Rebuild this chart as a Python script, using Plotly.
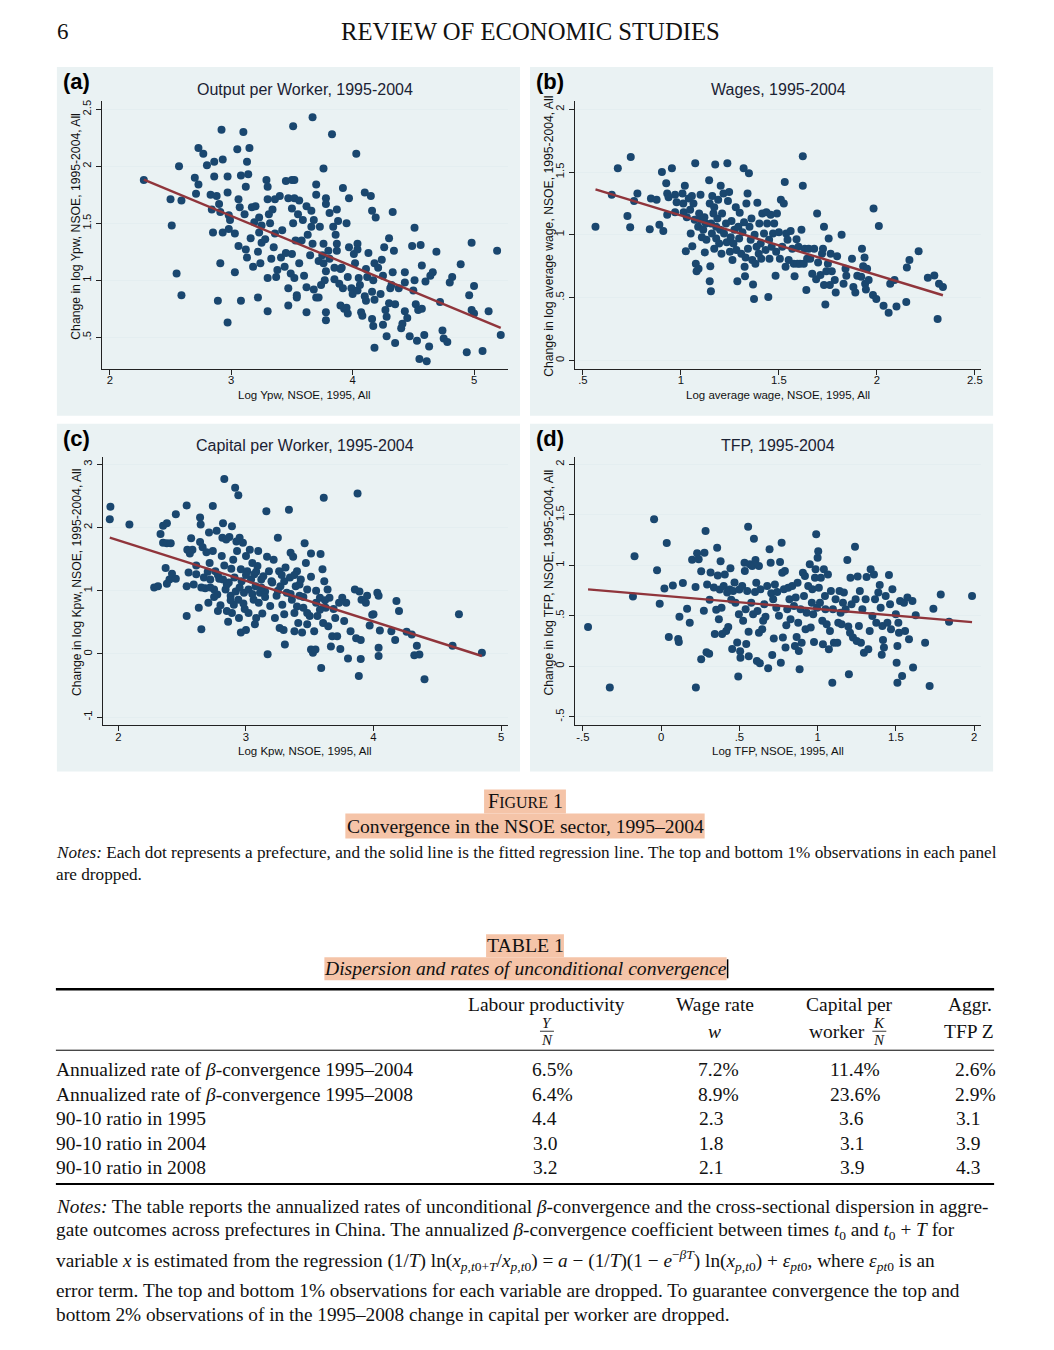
import numpy as np
import plotly.graph_objects as go

W, H = 1054, 1350
SERIF = "Liberation Serif"
SANS = "Liberation Sans"
NAVY = "#1a476f"
MAROON = "#90353b"
PANEL_BG = "#eaf2f3"
HILITE = "#f5c4a8"
INK = "#111111"

# (a) output per worker: (log Ypw 1995, change 1995-2004)
ypw_points = [
    (2.28, 1.88), (2.50, 1.71), (2.51, 1.48), (2.57, 2.00), (2.59, 1.70), (2.55, 1.06), (2.59, 0.87),
    (2.70, 1.90), (2.73, 2.16), (2.77, 2.11), (2.73, 1.84), (2.71, 1.76), (2.80, 2.01), (2.83, 1.75),
    (2.84, 1.62), (2.86, 1.91), (2.86, 2.04), (2.88, 1.74), (2.90, 1.67), (2.91, 1.60), (2.85, 1.42),
    (2.92, 2.32), (2.93, 2.06), (2.93, 1.42), (2.91, 1.15), (2.89, 0.82), (2.97, 1.91), (2.97, 1.77),
    (2.98, 1.57), (2.99, 1.53), (2.98, 1.45), (2.97, 0.63), (3.03, 1.41), (3.05, 2.15), (3.06, 1.71),
    (3.06, 1.30), (3.03, 1.07), (3.07, 1.64), (3.08, 1.92), (3.10, 2.30), (3.11, 1.58), (3.12, 1.82),
    (3.13, 2.04), (3.14, 1.93), (3.15, 2.16), (3.12, 1.27), (3.13, 1.20), (3.16, 1.37), (3.18, 1.12),
    (3.17, 1.64), (3.20, 1.65), (3.19, 1.51), (3.08, 0.82), (3.22, 0.85), (3.23, 1.55), (3.22, 1.25),
    (3.23, 1.42), (3.25, 1.33), (3.25, 1.48), (3.24, 1.15), (3.28, 1.36), (3.29, 1.88), (3.30, 1.71),
    (3.30, 1.82), (3.30, 1.02), (3.30, 0.73), (3.31, 1.58), (3.32, 1.50), (3.34, 1.62), (3.33, 1.19),
    (3.35, 1.29), (3.36, 1.71), (3.36, 1.41), (3.37, 1.03), (3.38, 1.09), (3.40, 1.74), (3.42, 1.44),
    (3.41, 1.20), (3.45, 1.87), (3.45, 1.24), (3.44, 1.12), (3.47, 1.72), (3.47, 0.93), (3.47, 0.78),
    (3.49, 1.06), (3.50, 1.88), (3.51, 2.35), (3.52, 1.88), (3.52, 1.72), (3.50, 1.63), (3.51, 1.50),
    (3.50, 1.23), (3.52, 1.02), (3.53, 1.35), (3.54, 0.87), (3.54, 0.85), (3.55, 1.58), (3.56, 1.70),
    (3.56, 1.15), (3.58, 1.35), (3.59, 1.53), (3.60, 1.04), (3.62, 0.72), (3.62, 0.94), (3.62, 1.65),
    (3.63, 1.40), (3.65, 1.22), (3.66, 1.61), (3.66, 1.47), (3.67, 2.43), (3.67, 1.32), (3.68, 0.92),
    (3.68, 1.53), (3.70, 1.84), (3.70, 1.75), (3.70, 0.85), (3.72, 1.17), (3.72, 0.85), (3.73, 1.47),
    (3.74, 0.96), (3.75, 1.22), (3.76, 1.32), (3.76, 1.98), (3.76, 1.15), (3.77, 1.00), (3.78, 0.72),
    (3.78, 0.65), (3.78, 1.72), (3.78, 1.67), (3.78, 1.08), (3.80, 1.26), (3.81, 1.59), (3.81, 1.19),
    (3.83, 2.28), (3.84, 1.47), (3.85, 1.11), (3.86, 1.40), (3.85, 1.01), (3.87, 1.32), (3.87, 1.62),
    (3.87, 1.26), (3.88, 1.52), (3.89, 0.97), (3.90, 1.10), (3.91, 1.11), (3.92, 1.81), (3.90, 0.78),
    (3.92, 0.93), (3.93, 0.75), (3.95, 0.76), (3.95, 1.50), (3.96, 0.71), (3.96, 1.03), (3.97, 1.72),
    (3.97, 1.29), (3.99, 0.93), (4.00, 0.88), (4.01, 1.23), (4.03, 2.11), (4.02, 1.15), (4.04, 0.91),
    (4.04, 1.32), (4.04, 1.27), (4.05, 1.02), (4.06, 0.96), (4.07, 0.72), (4.08, 0.69), (4.10, 1.77),
    (4.10, 0.86), (4.11, 0.82), (4.11, 1.10), (4.12, 1.03), (4.13, 1.24), (4.15, 1.74), (4.16, 0.90),
    (4.16, 1.61), (4.16, 0.66), (4.17, 0.60), (4.17, 1.00), (4.18, 0.41), (4.18, 0.83), (4.19, 1.55),
    (4.18, 1.15), (4.21, 1.11), (4.23, 0.88), (4.24, 1.18), (4.25, 0.61), (4.25, 1.04), (4.26, 1.29),
    (4.27, 0.74), (4.28, 0.51), (4.28, 0.68), (4.30, 1.37), (4.30, 0.80), (4.31, 0.93), (4.32, 0.96),
    (4.33, 1.60), (4.34, 1.26), (4.33, 1.07), (4.35, 0.79), (4.35, 0.45), (4.38, 0.93), (4.40, 0.58),
    (4.41, 0.62), (4.43, 0.73), (4.43, 1.07), (4.43, 0.98), (4.45, 0.67), (4.47, 0.51), (4.49, 1.30),
    (4.51, 1.46), (4.51, 1.00), (4.50, 0.91), (4.52, 0.79), (4.54, 0.74), (4.53, 0.47), (4.55, 0.31),
    (4.56, 1.31), (4.57, 1.13), (4.57, 0.75), (4.59, 0.52), (4.60, 0.99), (4.61, 0.29), (4.63, 0.42),
    (4.64, 1.04), (4.66, 1.07), (4.69, 1.25), (4.72, 0.81), (4.74, 0.56), (4.75, 0.49), (4.78, 0.46),
    (4.80, 0.98), (4.82, 1.03), (4.89, 1.14), (4.94, 0.37), (4.96, 0.87), (4.98, 0.74), (4.98, 1.33),
    (5.00, 0.95), (5.00, 0.71), (5.07, 0.38), (5.12, 0.73), (5.19, 1.26), (5.22, 0.52),
]
ypw_fit = [2.89, -0.442]  # intercept, slope

# (b) wages: (log average wage 1995, change 1995-2004)
wage_points = [
    (0.564, 1.064), (0.647, 1.32), (0.678, 1.53), (0.744, 1.62), (0.727, 1.15), (0.741, 1.06),
    (0.778, 1.33), (0.761, 1.27), (0.841, 1.045), (0.847, 1.29), (0.876, 1.28), (0.89, 1.08),
    (0.903, 1.50), (0.91, 1.03), (0.925, 1.41), (0.93, 1.33), (0.93, 1.16), (0.937, 1.30),
    (0.954, 1.53), (0.97, 1.32), (0.978, 1.26), (0.97, 1.18), (1.008, 1.33), (1.012, 1.25),
    (1.014, 1.18), (1.02, 1.39), (1.025, 0.87), (1.03, 1.14), (1.04, 1.29), (1.047, 1.20),
    (1.056, 1.31), (1.05, 1.01), (1.058, 0.91), (1.064, 1.25), (1.07, 1.12), (1.073, 1.57),
    (1.076, 0.77), (1.08, 0.71), (1.088, 1.064), (1.09, 0.73), (1.093, 1.17), (1.10, 1.32),
    (1.10, 1.12), (1.107, 0.98), (1.114, 1.04), (1.12, 1.14), (1.122, 0.86), (1.127, 1.09),
    (1.13, 0.96), (1.144, 1.435), (1.147, 1.25), (1.147, 0.63), (1.153, 0.55), (1.15, 0.75),
    (1.154, 1.09), (1.158, 1.01), (1.16, 1.31), (1.166, 1.17), (1.17, 0.89), (1.17, 1.22),
    (1.175, 1.56), (1.18, 1.064), (1.18, 0.97), (1.186, 1.13), (1.19, 1.28), (1.195, 0.93),
    (1.20, 1.04), (1.203, 1.39), (1.207, 0.85), (1.21, 1.17), (1.217, 1.33), (1.22, 1.01),
    (1.23, 1.09), (1.234, 0.94), (1.237, 1.57), (1.24, 1.27), (1.246, 1.34), (1.25, 0.865),
    (1.254, 0.98), (1.258, 1.11), (1.263, 0.80), (1.268, 0.93), (1.273, 1.04), (1.28, 1.22),
    (1.283, 0.88), (1.288, 0.63), (1.293, 1.064), (1.297, 0.97), (1.30, 1.175), (1.308, 0.85),
    (1.314, 1.02), (1.32, 1.53), (1.322, 1.10), (1.325, 0.745), (1.327, 0.67), (1.33, 0.82),
    (1.334, 1.25), (1.34, 1.33), (1.342, 0.89), (1.347, 1.49), (1.35, 1.064), (1.356, 0.96),
    (1.36, 1.13), (1.364, 0.80), (1.368, 0.605), (1.373, 0.49), (1.376, 1.00), (1.38, 0.77),
    (1.386, 0.905), (1.39, 1.255), (1.397, 0.85), (1.40, 1.09), (1.407, 0.93), (1.41, 0.81),
    (1.415, 1.17), (1.424, 1.01), (1.432, 0.88), (1.436, 1.18), (1.44, 1.09), (1.446, 0.505),
    (1.45, 0.96), (1.452, 0.81), (1.458, 1.16), (1.463, 0.905), (1.47, 1.01), (1.476, 1.09),
    (1.483, 0.674), (1.486, 0.865), (1.49, 1.17), (1.50, 1.02), (1.505, 0.81), (1.51, 1.28),
    (1.517, 0.905), (1.525, 1.25), (1.53, 1.42), (1.534, 0.745), (1.537, 1.01), (1.544, 0.96),
    (1.55, 0.80), (1.56, 1.03), (1.568, 0.89), (1.576, 0.77), (1.58, 0.67), (1.59, 0.965),
    (1.595, 0.77), (1.60, 0.905), (1.608, 0.77), (1.615, 1.04), (1.622, 1.626), (1.622, 1.39),
    (1.627, 0.77), (1.632, 0.89), (1.64, 0.56), (1.644, 0.81), (1.652, 0.89), (1.66, 0.81),
    (1.67, 0.69), (1.68, 0.89), (1.69, 0.647), (1.695, 1.17), (1.70, 0.78), (1.712, 0.68),
    (1.72, 0.85), (1.725, 0.89), (1.73, 1.064), (1.73, 0.60), (1.737, 0.445), (1.742, 0.71),
    (1.75, 0.77), (1.754, 0.97), (1.76, 0.60), (1.764, 0.85), (1.77, 0.71), (1.785, 0.64),
    (1.79, 0.54), (1.797, 0.83), (1.82, 1.00), (1.83, 0.61), (1.84, 0.73), (1.844, 0.674),
    (1.873, 0.81), (1.88, 0.585), (1.89, 0.54), (1.90, 0.674), (1.92, 0.666), (1.924, 0.89),
    (1.93, 0.75), (1.937, 0.82), (1.94, 0.61), (1.944, 0.565), (1.95, 0.73), (1.958, 0.64),
    (1.98, 0.52), (1.983, 1.21), (1.997, 0.49), (2.01, 1.07), (2.034, 0.435), (2.068, 0.61),
    (2.06, 0.38), (2.09, 0.64), (2.10, 0.43), (2.15, 0.465), (2.153, 0.74), (2.166, 0.80),
    (2.213, 0.87), (2.26, 0.658), (2.293, 0.676), (2.31, 0.33), (2.317, 0.61), (2.337, 0.584),
]
wage_fit = [1.629, -0.475]

# (c) capital per worker: (log Kpw 1995, change 1995-2004)
kpw_points = [
    (1.937, 2.33), (1.932, 2.13), (2.086, 2.05), (2.28, 1.05), (2.31, 1.07), (2.33, 1.90),
    (2.35, 2.03), (2.38, 2.07), (2.35, 1.76), (2.38, 1.75), (2.41, 1.75), (2.37, 1.36),
    (2.40, 1.18), (2.42, 1.27), (2.38, 1.11), (2.45, 2.21), (2.45, 1.19), (2.535, 2.35),
    (2.54, 1.65), (2.55, 1.29), (2.535, 1.07), (2.535, 0.60), (2.57, 1.83), (2.58, 1.65),
    (2.56, 1.59), (2.59, 1.10), (2.61, 1.40), (2.61, 1.26), (2.63, 0.73), (2.64, 2.16),
    (2.645, 2.05), (2.64, 1.77), (2.65, 0.39), (2.66, 1.69), (2.67, 1.21), (2.68, 1.04),
    (2.69, 1.61), (2.705, 0.81), (2.71, 1.92), (2.715, 1.44), (2.72, 1.18), (2.74, 2.34),
    (2.74, 1.63), (2.75, 1.02), (2.76, 1.31), (2.77, 1.95), (2.775, 0.94), (2.78, 0.68),
    (2.79, 1.19), (2.80, 0.77), (2.81, 1.55), (2.815, 1.84), (2.82, 2.07), (2.83, 2.77),
    (2.83, 1.40), (2.84, 1.02), (2.845, 1.81), (2.85, 0.68), (2.86, 0.51), (2.865, 1.13),
    (2.87, 1.85), (2.88, 0.92), (2.885, 1.35), (2.89, 2.02), (2.89, 0.65), (2.90, 1.49),
    (2.905, 0.78), (2.91, 1.21), (2.915, 2.63), (2.92, 0.99), (2.925, 1.78), (2.93, 1.63),
    (2.94, 2.51), (2.94, 0.86), (2.945, 0.57), (2.95, 1.84), (2.96, 1.34), (2.96, 0.34),
    (2.966, 1.15), (2.976, 1.76), (2.984, 0.97), (2.99, 0.71), (3.00, 1.55), (3.00, 0.38),
    (3.01, 1.31), (3.02, 1.02), (3.02, 0.65), (3.03, 1.65), (3.04, 1.18), (3.05, 1.44),
    (3.06, 0.86), (3.065, 1.26), (3.07, 0.47), (3.075, 1.07), (3.08, 0.57), (3.09, 1.39),
    (3.096, 1.63), (3.10, 0.81), (3.11, 0.97), (3.12, 1.18), (3.128, 0.64), (3.136, 1.23),
    (3.15, 0.99), (3.16, 2.26), (3.165, 1.54), (3.17, -0.005), (3.18, 1.31), (3.19, 0.76),
    (3.206, 1.13), (3.217, 1.49), (3.227, 0.57), (3.24, 0.92), (3.25, 1.84), (3.26, 1.31),
    (3.264, 0.41), (3.27, 1.07), (3.285, 0.78), (3.295, 0.38), (3.30, 0.63), (3.305, 0.15),
    (3.31, 1.37), (3.32, 0.97), (3.337, 2.28), (3.345, 1.21), (3.35, 1.60), (3.36, 0.86),
    (3.37, 1.54), (3.38, 0.36), (3.38, 0.65), (3.39, 1.07), (3.40, 1.31), (3.41, 0.49),
    (3.42, 0.92), (3.43, 1.18), (3.44, 0.34), (3.45, 0.73), (3.46, 1.75), (3.47, 1.44),
    (3.48, 1.02), (3.48, 0.47), (3.50, 0.60), (3.51, 1.59), (3.51, 1.22), (3.51, 0.07),
    (3.525, 0.02), (3.535, 0.36), (3.545, 0.07), (3.55, 0.81), (3.56, 0.60), (3.58, 0.89),
    (3.585, 1.58), (3.59, -0.22), (3.60, 1.34), (3.605, 0.49), (3.61, 2.47), (3.614, 1.15),
    (3.625, 0.73), (3.64, 1.02), (3.645, 0.44), (3.655, 0.89), (3.666, 0.12), (3.676, 0.28),
    (3.687, 0.71), (3.70, 0.57), (3.715, 0.28), (3.73, 0.81), (3.74, 0.08), (3.755, 0.89),
    (3.77, 0.52), (3.786, 0.81), (3.80, -0.07), (3.82, 0.36), (3.854, 1.02), (3.864, 0.25),
    (3.875, 2.54), (3.885, -0.35), (3.89, 0.99), (3.90, 0.22), (3.90, -0.08), (3.906, 0.86),
    (3.94, 0.81), (3.95, 0.92), (3.97, 0.45), (3.99, 0.62), (4.00, 0.63), (4.03, 0.97),
    (4.04, 0.92), (4.04, 0.10), (4.04, -0.03), (4.05, 0.37), (4.14, 0.36), (4.17, 0.22),
    (4.18, 0.84), (4.20, 0.68), (4.26, 0.35), (4.30, 0.31), (4.34, 0.13), (4.32, -0.02),
    (4.36, -0.01), (4.40, -0.40), (4.62, 0.13), (4.67, 0.63), (4.85, 0.02),
    (2.72, 1.05), (2.78, 1.25), (2.85, 1.10), (2.95, 1.05), (3.00, 1.25), (3.05, 0.95),
    (3.12, 1.05), (3.20, 1.15), (3.25, 1.00), (3.30, 1.15), (3.35, 0.95), (3.42, 1.10),
    (3.45, 0.90), (2.88, 0.85), (2.98, 0.80), (3.08, 1.30), (3.15, 0.90), (3.28, 1.25),
    (3.38, 1.25), (3.55, 1.00), (2.75, 0.90), (2.82, 1.18), (2.65, 1.05), (2.70, 1.30),
    (3.48, 0.65), (3.58, 0.70), (3.62, 0.85), (3.40, 0.75),
]
kpw_fit = [3.082, -0.642]

# (d) TFP: (log TFP 1995, change 1995-2004)
tfp_points = [
    (-0.467, 0.39), (-0.328, -0.21), (-0.17, 1.09), (-0.18, 0.69), (-0.045, 1.455), (-0.026, 0.95),
    (-0.009, 0.62), (0.021, 0.77), (0.036, 1.22), (0.049, 0.29), (0.075, 0.80), (0.109, 0.27),
    (0.113, 0.24), (0.117, 0.49), (0.139, 0.825), (0.166, 0.57), (0.183, 0.43), (0.198, 1.056),
    (0.22, 0.785), (0.222, -0.21), (0.23, 1.12), (0.24, 1.06), (0.256, 0.94), (0.256, 0.07),
    (0.273, 0.55), (0.277, 1.125), (0.284, 1.34), (0.29, 0.14), (0.294, 0.81), (0.307, 0.125),
    (0.31, 0.66), (0.316, 0.93), (0.337, 0.78), (0.343, 0.32), (0.352, 0.56), (0.358, 1.175),
    (0.362, 0.90), (0.369, 0.465), (0.375, 0.76), (0.38, 1.04), (0.386, 0.58), (0.39, 0.32),
    (0.40, 0.795), (0.407, 0.91), (0.416, 0.35), (0.422, 0.73), (0.429, 0.39), (0.439, 0.76),
    (0.443, 0.97), (0.448, 0.66), (0.454, 0.17), (0.46, 0.745), (0.469, 0.83), (0.475, 0.63),
    (0.486, 0.235), (0.493, -0.10), (0.497, 0.515), (0.50, 0.76), (0.505, 0.15), (0.507, 0.085),
    (0.518, 0.795), (0.524, 0.45), (0.533, 1.026), (0.535, 0.944), (0.54, 0.565), (0.544, 0.22),
    (0.55, 0.745), (0.556, 1.383), (0.559, 0.343), (0.56, 0.10), (0.567, 1.01), (0.576, 0.63),
    (0.582, 0.993), (0.588, 0.515), (0.593, 1.264), (0.60, 0.736), (0.603, 1.053), (0.608, 0.828),
    (0.612, 0.053), (0.616, 0.548), (0.625, 0.993), (0.625, 0.333), (0.631, 0.03), (0.635, 0.762),
    (0.646, 0.366), (0.652, 0.45), (0.659, 0.614), (0.667, 0.49), (0.678, 0.795), (0.684, -0.02),
    (0.693, 1.158), (0.70, 1.026), (0.704, 0.723), (0.71, 0.112), (0.716, 0.663), (0.72, 0.274),
    (0.727, 0.81), (0.736, 0.58), (0.742, 0.736), (0.753, 0.50), (0.76, 1.033), (0.765, 0.036),
    (0.77, 1.224), (0.774, 0.927), (0.778, 0.284), (0.785, 0.762), (0.791, 0.944), (0.795, 0.185),
    (0.80, 0.406), (0.806, 0.564), (0.812, 0.779), (0.82, 0.663), (0.827, 0.465), (0.838, 0.795),
    (0.849, 0.597), (0.855, 0.20), (0.86, 0.68), (0.866, 0.29), (0.872, 0.828), (0.876, 0.432),
    (0.88, 0.152), (0.885, -0.03), (0.891, 0.564), (0.898, 0.234), (0.906, 0.927), (0.913, 0.696),
    (0.919, 0.894), (0.923, 0.366), (0.93, 0.53), (0.94, 0.795), (0.95, 1.01), (0.956, 0.383),
    (0.963, 0.63), (0.966, 0.762), (0.972, 0.515), (0.977, 0.24), (0.983, 0.878), (0.987, 0.96),
    (0.991, 1.307), (0.996, 0.58), (1.00, 1.076), (1.004, 1.14), (1.008, 0.779), (1.015, 0.63),
    (1.021, 0.878), (1.03, 0.45), (1.034, 0.218), (1.04, 0.96), (1.047, 0.696), (1.05, 0.564),
    (1.058, 0.416), (1.066, 0.91), (1.072, 0.168), (1.079, 0.35), (1.085, 0.745), (1.094, -0.162),
    (1.098, 0.564), (1.104, 0.234), (1.115, 0.663), (1.126, 0.234), (1.132, 0.432), (1.14, 0.745),
    (1.147, 0.53), (1.153, 0.416), (1.162, 0.63), (1.168, 0.73), (1.179, 0.564), (1.19, 1.053),
    (1.196, 0.393), (1.20, -0.08), (1.207, 0.333), (1.21, 0.878), (1.217, 0.614), (1.226, 0.284),
    (1.239, 1.185), (1.243, 0.663), (1.25, 0.25), (1.256, 0.888), (1.264, 0.40), (1.27, 0.745),
    (1.277, 0.234), (1.286, 0.564), (1.296, 0.135), (1.307, 0.663), (1.313, 0.884), (1.324, 0.168),
    (1.333, 0.35), (1.339, 0.96), (1.35, 0.498), (1.36, 0.91), (1.367, 0.663), (1.375, 0.432),
    (1.388, 0.73), (1.397, 0.805), (1.403, 0.58), (1.41, 0.115), (1.414, 0.40), (1.418, 0.26),
    (1.424, 0.185), (1.435, 0.696), (1.446, 0.432), (1.456, 0.904), (1.463, 0.614), (1.469, 0.366),
    (1.478, 0.762), (1.50, 0.515), (1.505, 0.036), (1.51, 0.20), (1.51, -0.162), (1.516, 0.432),
    (1.52, 0.333), (1.527, 0.647), (1.54, -0.096), (1.552, 0.63), (1.559, 0.35), (1.574, 0.68),
    (1.584, 0.267), (1.606, 0.647), (1.61, -0.013), (1.627, 0.505), (1.687, 0.234), (1.716, -0.195),
    (1.74, 0.57), (1.787, 0.71), (1.84, 0.442), (1.987, 0.696),
]
tfp_fit = [0.700, -0.132]

# axis ticks (Stata style labels)
ypw_xticks, ypw_yticks = [2, 3, 4, 5], [0.5, 1, 1.5, 2, 2.5]
ypw_ylabels = [".5", "1", "1.5", "2", "2.5"]
wage_xticks, wage_yticks = [0.5, 1, 1.5, 2, 2.5], [0, 0.5, 1, 1.5, 2]
wage_xlabels, wage_ylabels = [".5", "1", "1.5", "2", "2.5"], ["0", ".5", "1", "1.5", "2"]
kpw_xticks, kpw_yticks = [2, 3, 4, 5], [-1, 0, 1, 2, 3]
tfp_xticks, tfp_yticks = [-0.5, 0, 0.5, 1, 1.5, 2], [-0.5, 0, 0.5, 1, 1.5, 2]
tfp_labels = ["-.5", "0", ".5", "1", "1.5", "2"]

# table 1
table_cols = ["Labour productivity", "Wage rate", "Capital per", "Aggr."]
table_rows = [
    "Annualized rate of <i>β</i>-convergence 1995–2004",
    "Annualized rate of <i>β</i>-convergence 1995–2008",
    "90-10 ratio in 1995",
    "90-10 ratio in 2004",
    "90-10 ratio in 2008",
]
table_vals = [
    ["6.5%", "7.2%", "11.4%", "2.6%"],
    ["6.4%", "8.9%", "23.6%", "2.9%"],
    ["4.4", "2.3", "3.6", "3.1"],
    ["3.0", "1.8", "3.1", "3.9"],
    ["3.2", "2.1", "3.9", "4.3"],
]

annotations, shapes = [], []


def px(x):
    return x / W


def py(y):
    return 1 - y / H


def note(text, x, y, size, family=SERIF, xanchor="center", color=INK, angle=0):
    annotations.append(dict(
        text=text, x=px(x), y=py(y), xref="paper", yref="paper",
        xanchor=xanchor, yanchor="middle", showarrow=False, textangle=angle,
        borderpad=0, borderwidth=0,
        font=dict(family=family, size=size, color=color),
    ))


def rect(x0, x1, y0, y1, color):
    shapes.append(dict(type="rect", xref="paper", yref="paper", layer="below",
                       x0=px(x0), x1=px(x1), y0=py(y1), y1=py(y0),
                       fillcolor=color, line_width=0))


def rule(x0, x1, y, width):
    shapes.append(dict(type="line", xref="paper", yref="paper",
                       x0=px(x0), x1=px(x1), y0=py(y), y1=py(y),
                       line=dict(color="black", width=width)))


fig = go.Figure()

panels = [
    dict(pts=ypw_points, fit=ypw_fit, tag="(a)", title="Output per Worker, 1995-2004",
         xtitle="Log Ypw, NSOE, 1995, All", ytitle="Change in log Ypw, NSOE, 1995-2004, All",
         xt=ypw_xticks, xl=[str(v) for v in ypw_xticks], yt=ypw_yticks, yl=ypw_ylabels,
         xr=[1.934, 5.28], yr=[0.225, 2.573], bg=(57, 521, 66, 415),
         box=(102, 509, 100, 368), ytc=225),
    dict(pts=wage_points, fit=wage_fit, tag="(b)", title="Wages, 1995-2004",
         xtitle="Log average wage, NSOE, 1995, All",
         ytitle="Change in log average wage, NSOE, 1995-2004, All",
         xt=wage_xticks, xl=wage_xlabels, yt=wage_yticks, yl=wage_ylabels,
         xr=[0.459, 2.532], yr=[-0.066, 2.066], bg=(531, 995, 66, 415),
         box=(576, 983, 100, 368), ytc=235),
    dict(pts=kpw_points, fit=kpw_fit, tag="(c)", title="Capital per Worker, 1995-2004",
         xtitle="Log Kpw, NSOE, 1995, All", ytitle="Change in log Kpw, NSOE, 1995-2004, All",
         xt=kpw_xticks, xl=[str(v) for v in kpw_xticks], yt=kpw_yticks,
         yl=[str(v) for v in kpw_yticks],
         xr=[1.875, 5.055], yr=[-1.126, 3.117], bg=(57, 521, 423, 771),
         box=(102.7, 509, 456.3, 724.7), ytc=582),
    dict(pts=tfp_points, fit=tfp_fit, tag="(d)", title="TFP, 1995-2004",
         xtitle="Log TFP, NSOE, 1995, All", ytitle="Change in log TFP, NSOE, 1995-2004, All",
         xt=tfp_xticks, xl=tfp_labels, yt=tfp_yticks, yl=tfp_labels,
         xr=[-0.551, 2.047], yr=[-0.583, 2.073], bg=(531, 995, 423, 771),
         box=(576, 983.3, 456.3, 724.7), ytc=582),
]

axis_font = dict(family=SANS, size=11.3, color=INK)
layout_axes = {}
for i, p in enumerate(panels, start=1):
    sfx = "" if i == 1 else str(i)
    xs = np.array([q[0] for q in p["pts"]])
    ys = np.array([q[1] for q in p["pts"]])
    fig.add_trace(go.Scatter(
        x=xs, y=ys, mode="markers", xaxis="x" + sfx, yaxis="y" + sfx,
        marker=dict(color=NAVY, size=8, line_width=0), showlegend=False,
    ))
    a, b = p["fit"]
    xf = np.array([xs.min(), xs.max()])
    fig.add_trace(go.Scatter(
        x=xf, y=a + b * xf, mode="lines", xaxis="x" + sfx, yaxis="y" + sfx,
        line=dict(color=MAROON, width=2.4), showlegend=False,
    ))
    x0, x1, y0, y1 = p["box"]
    layout_axes["xaxis" + sfx] = dict(
        domain=[px(x0), px(x1)], anchor="y" + sfx, range=p["xr"],
        tickvals=p["xt"], ticktext=p["xl"], ticks="outside", ticklen=5,
        tickcolor="#222", showline=True, linecolor="#222", linewidth=1,
        showgrid=False, zeroline=False, tickfont=axis_font, ticklabelstandoff=-4,
    )
    layout_axes["yaxis" + sfx] = dict(
        domain=[py(y1), py(y0)], anchor="x" + sfx, range=p["yr"],
        tickvals=p["yt"], ticktext=p["yl"], ticks="outside", ticklen=5,
        tickcolor="#222", showline=True, linecolor="#222", linewidth=1,
        showgrid=True, gridcolor="#e4eef0", gridwidth=1, zeroline=False,
        tickangle=-90, tickfont=axis_font,
    )
    bx0, bx1, by0, by1 = p["bg"]
    rect(bx0, bx1, by0, by1, PANEL_BG)
    cx = (x0 + x1) / 2
    note(p["title"], cx, y0 - 11, 16, family=SANS, color="#1b2233")
    note(p["xtitle"], cx, y1 + 26, 11.5, family=SANS)
    note(p["ytitle"], x0 - 26, p["ytc"], 12.2, family=SANS, angle=-90)
    note("<b>" + p["tag"] + "</b>", bx0 + 20, by0 + 15, 22, family=SANS, color="#000")

# page header
note("6", 57, 31, 23, xanchor="left")
note("REVIEW OF ECONOMIC STUDIES", 532, 31, 24.7)

# figure caption
rect(485, 567, 789, 813, HILITE)
rect(346, 706, 813, 838, HILITE)
note("F<span style='font-size:16px'>IGURE</span> 1", 526, 801, 20)
note("Convergence in the NSOE sector, 1995–2004", 526, 826, 19.6)
FN = 17.2
note("<i>Notes:</i> Each dot represents a prefecture, and the solid line is the fitted regression line. "
     "The top and bottom 1% observations in each panel", 56, 852, FN, xanchor="left")
note("are dropped.", 56, 874, FN, xanchor="left")

# table caption
rect(487, 565, 934, 957, HILITE)
rect(325, 728, 957, 980, HILITE)
note("TABLE 1", 526, 945, 19.8)
note("<i>Dispersion and rates of unconditional convergence</i>", 526, 968, 19.6)
shapes.append(dict(type="line", xref="paper", yref="paper", x0=px(729), x1=px(729),
                   y0=py(978), y1=py(959), line=dict(color="black", width=1.5)))

# table rules and header
rule(56, 996, 989, 2.5)
rule(56, 996, 1050, 1)
rule(56, 996, 1184, 2)
TS = 19.5
note(table_cols[0], 548, 1004, TS)
note(table_cols[1], 716, 1004, TS)
note(table_cols[2], 851, 1004, TS)
note(table_cols[3], 994, 1004, TS, xanchor="right")
note("<i>Y</i>", 548, 1023, 15)
rule(541, 555, 1031, 0.8)
note("<i>N</i>", 548, 1040, 15)
note("<i>w</i>", 716, 1031, TS)
note("worker", 867, 1031, TS, xanchor="right")
note("<i>K</i>", 881, 1023, 15)
rule(874, 888, 1031, 0.8)
note("<i>N</i>", 881, 1040, 15)
note("TFP Z", 996, 1031, TS, xanchor="right")

# numbers aligned on the decimal point (Times metrics: ".5" = 0.75em, "%" = 0.833em)
row_y = [1069, 1094, 1118, 1143, 1167]
decimal_x = [543, 710, 851, 967]
for label, vals, ry in zip(table_rows, table_vals, row_y):
    note(label, 56, ry, TS, xanchor="left")
    for v, dx in zip(vals, decimal_x):
        tail = 0.75 + (0.833 if v.endswith("%") else 0.0)
        note(v, dx + tail * TS, ry, TS, xanchor="right")

# table notes
table_notes = [
    "<i>Notes:</i> The table reports the annualized rates of unconditional <i>β</i>-convergence and the "
    "cross-sectional dispersion in aggre-",
    "gate outcomes across prefectures in China. The annualized <i>β</i>-convergence coefficient between "
    "times <i>t</i><sub>0</sub> and <i>t</i><sub>0</sub> + <i>T</i> for",
    "variable <i>x</i> is estimated from the regression (1/<i>T</i>) ln(<i>x</i><sub><i>p,t</i>0+<i>T</i></sub>"
    "/<i>x</i><sub><i>p,t</i>0</sub>) = <i>a</i> − (1/<i>T</i>)(1 − <i>e</i><sup>−<i>βT</i></sup>) "
    "ln(<i>x</i><sub><i>p,t</i>0</sub>) + <i>ε</i><sub><i>pt</i>0</sub>, where <i>ε</i><sub><i>pt</i>0</sub> is an",
    "error term. The top and bottom 1% observations for each variable are dropped. To guarantee "
    "convergence the top and",
    "bottom 2% observations of in the 1995–2008 change in capital per worker are dropped.",
]
notes_y = [1206, 1231, 1260, 1290, 1314]
for line, ny in zip(table_notes, notes_y):
    note(line, 56, ny, 19.3, xanchor="left")

fig.update_layout(
    width=W, height=H,
    margin=dict(l=0, r=0, t=0, b=0),
    paper_bgcolor="white", plot_bgcolor="white",
    showlegend=False,
    annotations=annotations, shapes=shapes,
    **layout_axes,
)

fig.write_html("out.html", config={"displayModeBar": False},
               post_script="document.body.style.margin='0';")
